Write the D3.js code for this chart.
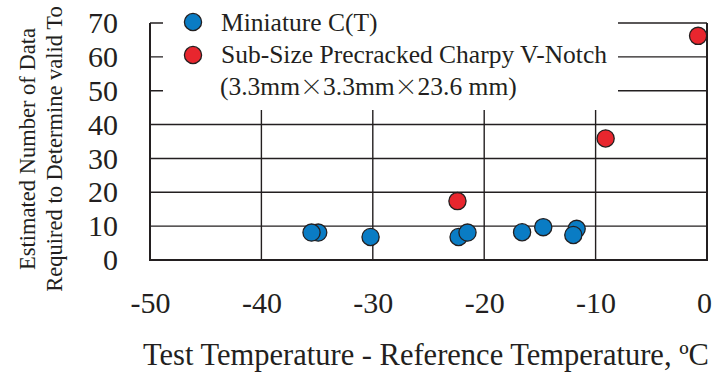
<!DOCTYPE html>
<meta charset="utf-8">
<style>
    body { margin: 0; background: #fff; }
    text { font-family: "Liberation Serif", "Times New Roman", serif; fill: #231f20; }
    .grid line { stroke: #231f20; stroke-width: 1.4px; }
    .frame { stroke: #231f20; stroke-width: 2px; fill: none; }
</style>
<body>
<script src="https://d3js.org/d3.v7.min.js"></script>
<script>

    // data
    var miniX = [-34.9, -35.5, -30.2, -22.3, -21.5, -16.6, -14.7, -11.7, -12.0];
    var miniY = [8.1, 8.1, 6.8, 6.8, 8.1, 8.2, 9.7, 9.2, 7.4];
    var pccX = [-22.4, -9.1, -0.8];
    var pccY = [17.4, 35.9, 66.2];
    var xTicks = [-50, -40, -30, -20, -10, 0];
    var yTicks = [0, 10, 20, 30, 40, 50, 60, 70];
    var legendLabels = ["Miniature C(T)", "Sub-Size Precracked Charpy V-Notch"];

    var blue = "#0a7cc4", red = "#e8262e";

    var W = 713, H = 374;
    var svg = d3.select("body").append("svg")
        .attr("width", W)
        .attr("height", H);

    // set the ranges
    var x = d3.scaleLinear().domain([-50, 0]).range([150, 707]);
    var y = d3.scaleLinear().domain([0, 70]).range([260, 23]);

    // grid lines
    var grid = svg.append("g").attr("class", "grid");
    grid.selectAll(".h").data(yTicks.slice(1)).enter().append("line")
        .attr("x1", x(-50)).attr("x2", x(0))
        .attr("y1", function (d) { return y(d); })
        .attr("y2", function (d) { return y(d); });
    grid.selectAll(".v").data(xTicks.slice(1, -1)).enter().append("line")
        .attr("y1", y(0)).attr("y2", y(70))
        .attr("x1", function (d) { return x(d); })
        .attr("x2", function (d) { return x(d); });

    // white legend box hides the grid behind it
    svg.append("rect")
        .attr("x", 163).attr("y", 0)
        .attr("width", 455).attr("height", 110)
        .attr("fill", "#fff");

    // frame: left axis, bottom, right
    svg.append("path").attr("class", "frame")
        .attr("d", "M" + x(-50) + "," + y(70) + "V" + y(0) + "H" + x(0) + "V" + y(70));

    // plain hyphen minus, like the original
    var fmt = function (d) { return String(d); };

    // y axis labels
    var yAxis = svg.append("g")
        .attr("transform", "translate(" + x(-50) + ",0)")
        .call(d3.axisLeft(y).tickValues(yTicks).tickFormat(fmt).tickSize(0).tickPadding(32));
    yAxis.select(".domain").remove();
    yAxis.selectAll("text")
        .attr("font-size", "30px")
        .attr("font-family", "Liberation Serif")
        .attr("fill", "#231f20");

    // x axis labels
    var xAxis = svg.append("g")
        .attr("transform", "translate(0," + y(0) + ")")
        .call(d3.axisBottom(x).tickValues(xTicks).tickFormat(fmt).tickSize(0).tickPadding(32));
    xAxis.select(".domain").remove();
    xAxis.selectAll("text")
        .attr("font-size", "30px")
        .attr("font-family", "Liberation Serif")
        .attr("fill", "#231f20")
        .attr("dx", function (d) { return d === 0 ? -3 : 0; });

    // points
    function dots(xs, ys, color) {
        svg.append("g").selectAll("circle")
            .data(xs.map(function (d, i) { return [d, ys[i]]; }))
            .enter().append("circle")
            .attr("cx", function (d) { return x(d[0]); })
            .attr("cy", function (d) { return y(d[1]); })
            .attr("r", 8.6)
            .attr("fill", color)
            .attr("stroke", "#231f20")
            .attr("stroke-width", 1.3);
    }
    dots(miniX, miniY, blue);
    dots(pccX, pccY, red);

    // legend
    var legend = svg.append("g");
    [blue, red].forEach(function (c, i) {
        legend.append("circle")
            .attr("cx", 193).attr("cy", 22 + i * 33)
            .attr("r", 8.6)
            .attr("fill", c)
            .attr("stroke", "#231f20")
            .attr("stroke-width", 1.3);
        legend.append("text")
            .attr("x", 221).attr("y", 31 + i * 32)
            .attr("font-size", "25.5px")
            .text(legendLabels[i]);
    });
    var l3 = legend.append("text")
        .attr("x", 220).attr("y", 95)
        .attr("font-size", "25.5px");
    l3.append("tspan").text("(3.3mm");
    l3.append("tspan").attr("font-family", "Noto Sans CJK JP").attr("font-weight", 300)
        .attr("font-size", "23px").text("\u00D7");
    l3.append("tspan").text("3.3mm");
    l3.append("tspan").attr("font-family", "Noto Sans CJK JP").attr("font-weight", 300)
        .attr("font-size", "23px").text("\u00D7");
    l3.append("tspan").text("23.6 mm)");

    // y axis title
    var yt = svg.append("text")
        .attr("transform", "translate(35,149) rotate(-90)")
        .attr("text-anchor", "middle")
        .attr("font-size", "22.5px");
    yt.append("tspan").attr("x", 0).attr("y", 0).text("Estimated Number of Data");
    yt.append("tspan").attr("x", 0).attr("y", 27).text("Required to Determine valid To");

    // x axis title
    svg.append("text")
        .attr("x", 426).attr("y", 365)
        .attr("text-anchor", "middle")
        .attr("font-size", "30.5px")
        .text("Test Temperature - Reference Temperature, \u00BAC");

</script>
</body>
